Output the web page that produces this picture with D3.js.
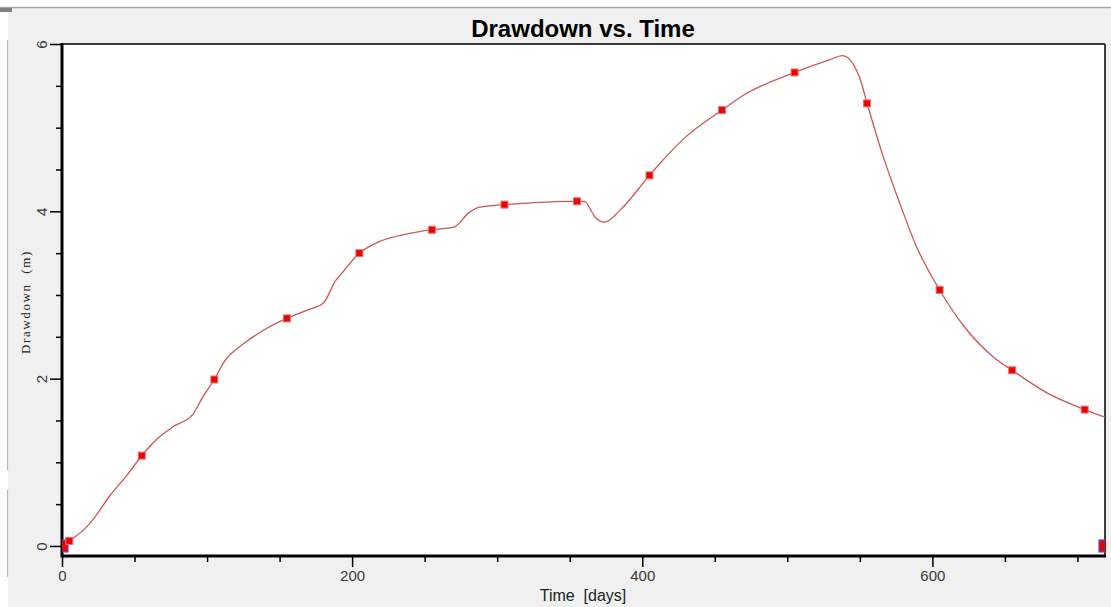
<!DOCTYPE html>
<html>
<head>
<meta charset="utf-8">
<script src="https://cdn.jsdelivr.net/npm/d3@7/dist/d3.min.js"></script>
<style>
  html, body { margin: 0; padding: 0; background: #ffffff; }
  svg { display: block; }
</style>
</head>
<body>
<svg id="chart" width="1111" height="607"></svg>
<script>
// ---- data ----
const curveTimes = [0, 5, 16, 22, 33, 45, 55, 65, 77, 90, 97, 105, 111, 127, 141, 155, 169, 180, 189, 192,
  205, 210, 219, 238, 255, 270, 281, 288, 305, 323, 348, 355, 360, 368, 374, 385, 405, 410, 430, 455,
  470, 505, 529, 538, 545, 550, 555, 566, 577, 589, 605, 622, 642, 655, 679, 705, 719];
const curveDrawdown = [0, 0.06, 0.21, 0.33, 0.60, 0.85, 1.08, 1.27, 1.43, 1.57, 1.78, 1.99, 2.18, 2.44, 2.60, 2.72, 2.82, 2.90, 3.18, 3.24,
  3.50, 3.56, 3.64, 3.73, 3.78, 3.81, 3.99, 4.05, 4.08, 4.10, 4.12, 4.12, 4.12, 3.92, 3.87, 4.02, 4.43, 4.53, 4.89, 5.21,
  5.39, 5.66, 5.81, 5.86, 5.77, 5.59, 5.29, 4.66, 4.12, 3.58, 3.06, 2.62, 2.26, 2.10, 1.83, 1.63, 1.54];

const markerTimes = [5, 55, 105, 155, 205, 255, 305, 355, 405, 455, 505, 555, 605, 655, 705];
const markerDrawdown = [0.06, 1.08, 1.99, 2.72, 3.50, 3.78, 4.08, 4.12, 4.43, 5.21, 5.66, 5.29, 3.06, 2.10, 1.63];

const endTimes = [0, 719];
const endDrawdown = [0, 0];

const xMajorTicks = [0, 200, 400, 600];
const yMajorTicks = [0, 2, 4, 6];

const titleText = "Drawdown vs. Time";
const xLabelText = "Time  [days]";
const yLabelText = "Drawdown  (m)";

// ---- layout ----
const svg = d3.select("#chart");
const W = 1111, H = 607;
const plot = { left: 62, right: 1105, top: 44, bottom: 556 };

const x = d3.scaleLinear().domain([0, 719]).range([plot.left, plot.right]);
const y = d3.scaleLinear().domain([-0.12, 6]).range([plot.bottom, plot.top]);

// window background
svg.append("rect").attr("x", 0).attr("y", 0).attr("width", W).attr("height", H).attr("fill", "#ffffff");
svg.append("rect").attr("x", 8).attr("y", 8).attr("width", W - 8).attr("height", H - 8).attr("fill", "#f0f0f0");
svg.append("line").attr("x1", 0).attr("x2", W).attr("y1", 7.5).attr("y2", 7.5).attr("stroke", "#a8a8a8").attr("stroke-width", 1.5);
svg.append("rect").attr("x", 0).attr("y", 8).attr("width", 12).attr("height", 4).attr("fill", "#808080");
svg.append("line").attr("x1", 7.5).attr("x2", 7.5).attr("y1", 40).attr("y2", 470).attr("stroke", "#b8b8b8").attr("stroke-width", 1.2);
svg.append("line").attr("x1", 7.5).attr("x2", 7.5).attr("y1", 490).attr("y2", 577).attr("stroke", "#b8b8b8").attr("stroke-width", 1.2);

// plot background
svg.append("rect")
  .attr("x", plot.left).attr("y", plot.top)
  .attr("width", plot.right - plot.left).attr("height", plot.bottom - plot.top)
  .attr("fill", "#ffffff");

svg.append("clipPath").attr("id", "clip")
  .append("rect")
  .attr("x", plot.left).attr("y", plot.top)
  .attr("width", plot.right - plot.left).attr("height", plot.bottom - plot.top);

// frame top/right
svg.append("line").attr("x1", plot.left).attr("x2", plot.right).attr("y1", plot.top).attr("y2", plot.top)
  .attr("stroke", "#3c3c3c").attr("stroke-width", 2);
svg.append("line").attr("x1", plot.right).attr("x2", plot.right).attr("y1", plot.top).attr("y2", plot.bottom)
  .attr("stroke", "#3c3c3c").attr("stroke-width", 2);

// axes
const xMinor = d3.range(0, 720, 50).filter(v => !xMajorTicks.includes(v));
const yMinor = d3.range(0, 6.01, 0.5).filter(v => !yMajorTicks.includes(v));
const tickFont = "Liberation Sans, Arial, sans-serif";

const xAxisG = svg.append("g").attr("transform", `translate(0,${plot.bottom})`);
xAxisG.call(d3.axisBottom(x).tickValues(xMinor).tickSize(6).tickFormat(""))
  .call(g => g.select(".domain").remove());
xAxisG.append("g").call(d3.axisBottom(x).tickValues(xMajorTicks).tickSize(11).tickPadding(3).tickFormat(d3.format("d")))
  .call(g => g.select(".domain").remove())
  .call(g => g.selectAll("text").attr("font-family", tickFont).attr("font-size", 15).attr("fill", "#3a3a3a"));
xAxisG.selectAll("line").attr("stroke", "#000").attr("stroke-width", 1.5);

const yAxisG = svg.append("g").attr("transform", `translate(${plot.left},0)`);
yAxisG.call(d3.axisLeft(y).tickValues(yMinor).tickSize(6).tickFormat(""))
  .call(g => g.select(".domain").remove());
const yMaj = yAxisG.append("g").call(d3.axisLeft(y).tickValues(yMajorTicks).tickSize(12).tickFormat(d3.format("d")))
  .call(g => g.select(".domain").remove());
yMaj.selectAll("text")
  .attr("font-family", tickFont).attr("font-size", 15).attr("fill", "#3a3a3a")
  .attr("x", null).attr("dy", null)
  .attr("text-anchor", "middle")
  .attr("transform", "translate(-19,0) rotate(-90)")
  .attr("dominant-baseline", "middle");
yAxisG.selectAll("line").attr("stroke", "#000").attr("stroke-width", 1.5);

// thick axis lines
svg.append("line").attr("x1", plot.left).attr("x2", plot.right + 1).attr("y1", plot.bottom).attr("y2", plot.bottom)
  .attr("stroke", "#000").attr("stroke-width", 3);
svg.append("line").attr("x1", plot.left).attr("x2", plot.left).attr("y1", plot.top - 1).attr("y2", plot.bottom + 1.5)
  .attr("stroke", "#000").attr("stroke-width", 3);

// data
const dataG = svg.append("g").attr("clip-path", "url(#clip)");
const curvePts = curveTimes.map((t, i) => [t, curveDrawdown[i]]);
dataG.append("path")
  .attr("d", d3.line().x(d => x(d[0])).y(d => y(d[1])).curve(d3.curveMonotoneX)(curvePts))
  .attr("fill", "none").attr("stroke", "#cc5656").attr("stroke-width", 1.3);

const ms = 7;
dataG.selectAll("rect.mk").data(markerTimes.map((t, i) => [t, markerDrawdown[i]]))
  .enter().append("rect").attr("class", "mk")
  .attr("x", d => x(d[0]) - ms / 2).attr("y", d => y(d[1]) - ms / 2)
  .attr("width", ms).attr("height", ms)
  .attr("fill", "#f00000").attr("stroke", "#e07a7a").attr("stroke-width", 1);

const es = 12;
dataG.selectAll("rect.end").data(endTimes.map((t, i) => [t, endDrawdown[i]]))
  .enter().append("rect").attr("class", "end")
  .attr("x", d => x(d[0]) - es / 2).attr("y", d => y(d[1]) - es / 2)
  .attr("width", es).attr("height", es)
  .attr("fill", "#f00000").attr("stroke", "#5050e0").attr("stroke-width", 1.2);

// redraw the red marker at t=5 over the blue one
dataG.append("rect")
  .attr("x", x(markerTimes[0]) - ms / 2).attr("y", y(markerDrawdown[0]) - ms / 2)
  .attr("width", ms).attr("height", ms)
  .attr("fill", "#f00000").attr("stroke", "#e07a7a").attr("stroke-width", 1);

// title & labels
svg.append("text").attr("x", 583).attr("y", 37).attr("text-anchor", "middle")
  .attr("font-family", "Liberation Sans, Arial, sans-serif").attr("font-weight", "bold").attr("font-size", 24)
  .attr("fill", "#000").text(titleText);

svg.append("text").attr("x", 583).attr("y", 601).attr("text-anchor", "middle")
  .attr("font-family", "Liberation Sans, Arial, sans-serif").attr("font-size", 16)
  .attr("fill", "#222").style("white-space", "pre").text(xLabelText);

svg.append("text").attr("transform", "translate(30,302) rotate(-90)").attr("text-anchor", "middle")
  .attr("font-family", "Liberation Serif, Times New Roman, serif").attr("font-size", 13)
  .attr("letter-spacing", 1.6)
  .attr("fill", "#222").style("white-space", "pre").text(yLabelText);
</script>
</body>
</html>
